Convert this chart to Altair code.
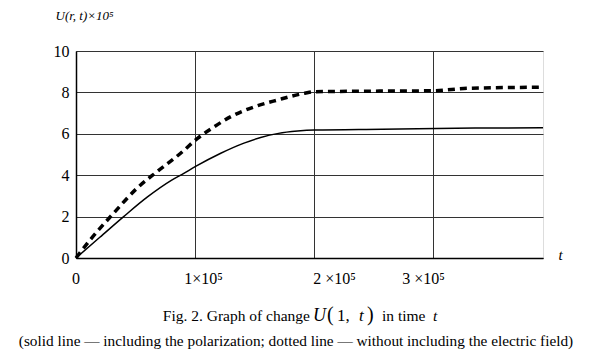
import altair as alt
import pandas as pd

# time in units of 1e5
t_solid = [0, 0.2, 0.4, 0.6, 0.8, 0.905, 1.0, 1.215, 1.41, 1.55, 1.7, 1.86, 2.0, 2.57, 3.35, 3.92]
u_solid = [0, 1.0, 2.0, 2.95, 3.75, 4.09, 4.41, 5.06, 5.55, 5.82, 6.02, 6.13, 6.18, 6.22, 6.28, 6.29]

t_dash = [0, 0.118, 0.315, 0.512, 0.68, 0.878, 1.02, 1.16, 1.30, 1.50, 1.69, 1.92, 2.0, 2.5, 2.99, 3.3, 3.92]
u_dash = [0, 0.87, 2.16, 3.37, 4.17, 5.06, 5.78, 6.34, 6.83, 7.31, 7.63, 7.96, 8.03, 8.06, 8.08, 8.2, 8.25]

x_ticks = [0, 100000, 200000, 300000]
x_tick_labels = ["0", "1×10⁵", "2 ×10⁵", "3 ×10⁵"]
x_label_pos = [0, 107100, 217000, 291800]
y_ticks = [0, 2, 4, 6, 8, 10]

caption2 = "(solid line — including the polarization; dotted line — without including the electric field)"

FONT = "Liberation Serif, Times New Roman, serif"

df_s = pd.DataFrame({"t": [v * 1e5 for v in t_solid], "U": u_solid})
df_d = pd.DataFrame({"t": [v * 1e5 for v in t_dash], "U": u_dash})
df_lab = pd.DataFrame({"t": x_label_pos, "label": x_tick_labels})

xscale = alt.Scale(domain=[0, 392000], nice=False, zero=True)
yscale = alt.Scale(domain=[0, 10], nice=False)

x_enc = alt.X("t:Q", scale=xscale, axis=alt.Axis(
    values=x_ticks, labels=False, grid=True, gridColor="#333333", gridWidth=1,
    domainColor="#000000", domainWidth=1.5, ticks=False,
    title="t", titleFont=FONT, titleFontStyle="italic", titleFontWeight="normal",
    titleFontSize=15, titleColor="#000000", titleX=482, titleY=-4, titleAngle=0,
    titleAlign="left", titleBaseline="middle"))
y_enc = alt.Y("U:Q", scale=yscale, axis=alt.Axis(
    values=y_ticks, grid=True, gridColor="#333333", gridWidth=1,
    domainColor="#000000", domainWidth=1.5, ticks=False, labelPadding=7,
    labelFont=FONT, labelFontSize=16, labelColor="#000000",
    title="U(r, t)×10⁵", titleFont=FONT, titleFontStyle="italic", titleFontWeight="normal",
    titleFontSize=13, titleColor="#000000", titleX=-21, titleY=-36, titleAngle=0,
    titleAlign="left", titleBaseline="middle"))

solid = alt.Chart(df_s).mark_line(color="#000000", strokeWidth=1.5, interpolate="monotone").encode(x=x_enc, y=y_enc)
dashed = alt.Chart(df_d).mark_line(color="#000000", strokeWidth=3.5, strokeDash=[7, 5], interpolate="monotone").encode(x=x_enc, y=y_enc)

xlabels = alt.Chart(df_lab).mark_text(
    font=FONT, fontSize=16, color="#000000", baseline="middle", align="center"
).encode(x=alt.X("t:Q", scale=xscale), y=alt.value(228), text="label:N")

cap_df = pd.DataFrame({"a": [0]})

def txt(s, x, y, align="left", style="normal", size=15.5):
    return alt.Chart(cap_df).mark_text(
        text=s, font=FONT, fontSize=size, fontStyle=style, align=align,
        baseline="middle", color="#000000").encode(x=alt.value(x), y=alt.value(y))

caps = [
    txt("Fig. 2. Graph of change", 234, 265, align="right"),
    txt("U", 237, 265, style="italic", size=18),
    txt("(", 251, 264, size=20),
    txt("1,", 261, 265, size=17),
    txt("t", 283, 265, style="italic", size=17),
    txt(")", 291, 264, size=20),
    txt("in time", 306, 265),
    txt("t", 357, 265, style="italic"),
    txt(caption2, 220, 290, align="center", size=15.3),
]

chart = alt.layer(solid, dashed, xlabels, *caps).properties(
    width=467, height=207,
    autosize=alt.AutoSizeParams(type="none"),
    padding={"left": 68, "top": 43, "right": 49, "bottom": 93},
).configure_view(stroke="#000000", strokeWidth=1.2).configure(background="#ffffff")

chart.save("out.html", embed_options={"renderer": "svg", "actions": False})
